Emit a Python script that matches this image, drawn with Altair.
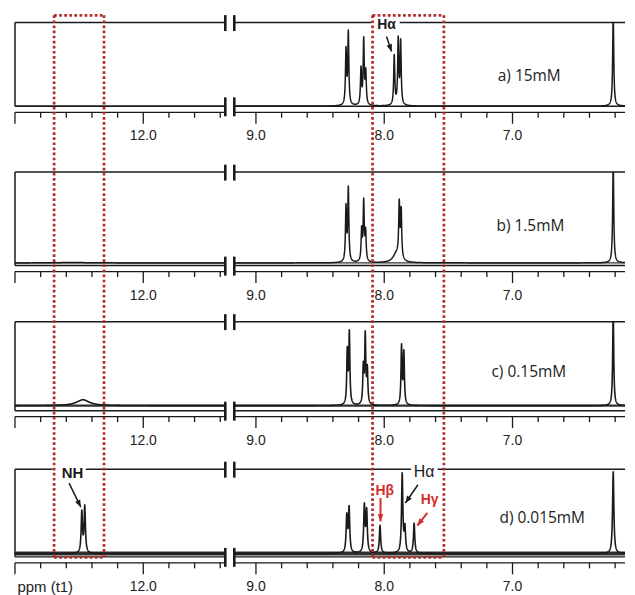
import numpy as np
import pandas as pd
import altair as alt

alt.data_transformers.disable_max_rows()

# ---------------- values ----------------
ROWS = ["a", "b", "c", "d"]
ROW_LABELS = ["a) 15mM", "b) 1.5mM", "c) 0.15mM", "d) 0.015mM"]

# peak lists: chemical shift (ppm), relative height, half width (ppm)
PEAK_PPM = {
    "a": [8.298, 8.280, 8.181, 8.160, 8.144, 7.922, 7.891, 7.872, 6.215],
    "b": [12.55, 8.298, 8.280, 8.176, 8.160, 8.145, 7.905, 7.883, 7.868, 6.215],
    "c": [12.47, 8.288, 8.272, 8.163, 8.148, 8.132, 7.865, 7.847, 6.215],
    "d": [12.479, 12.456, 8.292, 8.274, 8.155, 8.137, 8.033, 7.860, 7.839, 7.767, 6.215],
}
PEAK_HEIGHT = {
    "a": [0.65, 0.86, 0.43, 0.77, 0.38, 0.59, 0.775, 0.75, 1.10],
    "b": [0.006, 0.595, 0.80, 0.34, 0.65, 0.315, 0.10, 0.586, 0.522, 1.10],
    "c": [0.07, 0.628, 0.844, 0.435, 0.81, 0.403, 0.691, 0.614, 1.10],
    "d": [0.483, 0.549, 0.428, 0.524, 0.551, 0.485, 0.33, 0.932, 0.284, 0.354, 0.97],
}
PEAK_WIDTH = {
    "a": [0.005, 0.005, 0.005, 0.005, 0.005, 0.005, 0.005, 0.005, 0.005],
    "b": [0.10, 0.005, 0.005, 0.005, 0.005, 0.005, 0.03, 0.005, 0.005, 0.005],
    "c": [0.06, 0.005, 0.005, 0.005, 0.005, 0.005, 0.005, 0.005, 0.005],
    "d": [0.006, 0.006, 0.006, 0.006, 0.006, 0.006, 0.006, 0.006, 0.006, 0.006, 0.006],
}

TICKS_LEFT = [13.0, 12.8, 12.6, 12.4, 12.2, 12.0, 11.8, 11.6, 11.4]
TICKS_RIGHT = [9.0, 8.8, 8.6, 8.4, 8.2, 8.0, 7.8, 7.6, 7.4, 7.2, 7.0, 6.8, 6.6, 6.4, 6.2]
MAJOR_TICKS = [13.0, 12.0, 9.0, 8.0, 7.0]
TICK_LABELS = {12.0: "12.0", 9.0: "9.0", 8.0: "8.0", 7.0: "7.0"}

BOX_LEFT = [12.695, 12.306]    # dotted box around NH region (ppm)
BOX_RIGHT = [8.091, 7.535]     # dotted box around H-alpha region (ppm)

# ---------------- layout / style ----------------
L_HI, L_LO = 13.0, 11.3605
R_HI, R_LO = 9.169, 6.1231
W_L, W_R, GAP = 211, 392, 9
ROW_H = [149.5, 149.5, 147.6, 128]
FRAME_B = [84.0, 93.8, 89.3, 88.0]
BASE = [83.8, 91.1, 84.3, 84.7]
NOISE_W = [0, 1.2, 2.2, 4.0]
LINE_W = [1.5, 1.5, 1.6, 1.6]
LABEL_PPM = [7.115, 7.125, 7.164, 7.102]
LABEL_Y = [53.3, 53.8, 50.3, 49.0]
BREAK_TOP = (-7.5, 8.5)
BREAK_BOT = (-9, 10)
DOT_RED = "#B22C2C"
TXT_RED = "#D42B2B"
INK = "#1a1a1a"
ARROW_PATH = "M0,0L-0.6,1.5L0.6,1.5Z"

# annotations: (side, text, ppm, intensity, fontSize, weight, color)
ANNOT_TEXT = {
    "a": [("R", "H\u03b1", 7.982, 0.973, 14, "bold", INK)],
    "d": [("L", "NH", 12.552, 0.96, 15, "bold", INK),
          ("R", "H\u03b1", 7.690, 0.972, 16, "normal", INK),
          ("R", "H\u03b2", 7.996, 0.736, 14, "bold", TXT_RED),
          ("R", "H\u03b3", 7.646, 0.638, 14, "bold", TXT_RED)],
}
# arrows: (side, ppm start, I start, ppm end, I end, color, width)
ANNOT_ARROW = {
    "a": [("R", 7.982, 0.833, 7.943, 0.654, INK, 1.5)],
    "d": [("L", 12.578, 0.835, 12.487, 0.551, INK, 1.5),
          ("R", 7.737, 0.815, 7.835, 0.599, INK, 1.5),
          ("R", 8.029, 0.658, 8.029, 0.381, TXT_RED, 2.0),
          ("R", 7.664, 0.481, 7.742, 0.331, TXT_RED, 2.0)],
}
# white gaps in the top frame line behind labels: (side, ppm1, ppm2)
TOP_GAPS = {
    "a": [("R", 8.099, 7.879)],
    "d": [("L", 12.707, 12.448), ("R", 7.791, 7.584)],
}


def spectrum(row, lo, hi):
    ppm = np.round(np.arange(lo, hi + 0.0005, 0.001), 4)
    inten = np.zeros_like(ppm)
    for p, h, w in zip(PEAK_PPM[row], PEAK_HEIGHT[row], PEAK_WIDTH[row]):
        inten += h / (1.0 + ((ppm - p) / w) ** 2)
    return pd.DataFrame({"ppm": ppm, "I": np.round(inten, 5)})


ONE = pd.DataFrame({"k": [0]})


def panel(ri, side):
    row = ROWS[ri]
    left = side == "L"
    lo, hi = (L_LO, L_HI) if left else (R_LO, R_HI)
    W = W_L if left else W_R
    H, FB, BL = ROW_H[ri], FRAME_B[ri], BASE[ri]
    k = W / (hi - lo)
    xs = alt.Scale(domain=[lo, hi], reverse=True, nice=False, zero=False)
    ys = alt.Scale(domain=[0, 1], range=[BL, 0], nice=False, zero=False)
    layers = []

    if NOISE_W[ri] > 0:
        layers.append(alt.Chart(ONE).mark_rule(color=INK, strokeWidth=NOISE_W[ri], opacity=0.9).encode(
            x=alt.value(0), x2=alt.value(W), y=alt.Y(datum=0, scale=ys, axis=None)))

    layers.append(alt.Chart(spectrum(row, lo, hi)).mark_line(
        clip=True, color=INK, strokeWidth=LINE_W[ri], strokeJoin="round").encode(
        x=alt.X("ppm:Q", scale=xs, axis=None), y=alt.Y("I:Q", scale=ys, axis=None)))

    frame = dict(color=INK, strokeWidth=1.5)
    layers.append(alt.Chart(ONE).mark_rule(**frame).encode(x=alt.value(0), x2=alt.value(W), y=alt.value(0)))
    layers.append(alt.Chart(ONE).mark_rule(**frame).encode(x=alt.value(0), x2=alt.value(W), y=alt.value(FB)))
    if left:
        layers.append(alt.Chart(ONE).mark_rule(**frame).encode(x=alt.value(0), y=alt.value(0), y2=alt.value(FB)))

    bx = W if left else 0
    for (t0, t1), yy in ((BREAK_TOP, 0), (BREAK_BOT, FB)):
        layers.append(alt.Chart(ONE).mark_rule(color=INK, strokeWidth=2.6).encode(
            x=alt.value(bx), y=alt.value(yy + t0), y2=alt.value(yy + t1)))

    # axis
    ay = FB + 6
    layers.append(alt.Chart(ONE).mark_rule(color=INK, strokeWidth=1.2).encode(
        x=alt.value(0), x2=alt.value(W), y=alt.value(ay)))
    ticks = TICKS_LEFT if left else TICKS_RIGHT
    minor = pd.DataFrame({"ppm": [t for t in ticks if t not in MAJOR_TICKS]})
    major = pd.DataFrame({"ppm": [t for t in ticks if t in MAJOR_TICKS]})
    layers.append(alt.Chart(minor).mark_rule(color=INK, strokeWidth=1.3).encode(
        x=alt.X("ppm:Q", scale=xs, axis=None), y=alt.value(ay), y2=alt.value(ay + 5.5)))
    layers.append(alt.Chart(major).mark_rule(color=INK, strokeWidth=1.3).encode(
        x=alt.X("ppm:Q", scale=xs, axis=None), y=alt.value(ay), y2=alt.value(ay + 11.5)))
    labs = pd.DataFrame({"ppm": [t for t in ticks if t in TICK_LABELS],
                         "lab": [TICK_LABELS[t] for t in ticks if t in TICK_LABELS]})
    layers.append(alt.Chart(labs).mark_text(font="Liberation Sans", fontSize=14, color="#222",
                                            baseline="middle", align="center").encode(
        x=alt.X("ppm:Q", scale=xs, axis=None), y=alt.value(FB + 30), text="lab:N"))
    if left and ri == 3:
        layers.append(alt.Chart(pd.DataFrame({"t": ["ppm (t1)"]})).mark_text(
            font="Liberation Sans", fontSize=15, color="#222", align="left", baseline="middle").encode(
            x=alt.value(2.5), y=alt.value(FB + 30), text="t:N"))

    # white gaps in the top line behind labels
    for s, g1, g2 in TOP_GAPS.get(row, []):
        if s == side:
            layers.append(alt.Chart(ONE).mark_rule(color="white", strokeWidth=5).encode(
                x=alt.X(datum=g1, scale=xs, axis=None), x2=alt.X2(datum=g2), y=alt.value(0)))

    # text annotations
    for s, txt, px, py, fs, fw, col in ANNOT_TEXT.get(row, []):
        if s == side:
            layers.append(alt.Chart(pd.DataFrame({"t": [txt]})).mark_text(
                font="Liberation Sans", fontSize=fs, fontWeight=fw, color=col,
                align="center", baseline="middle").encode(
                x=alt.X(datum=px, scale=xs, axis=None), y=alt.Y(datum=py, scale=ys, axis=None), text="t:N"))

    # arrows
    for s, x1, y1, x2, y2, col, sw in ANNOT_ARROW.get(row, []):
        if s == side:
            dx = (x1 - x2) * k
            dy = (y1 - y2) * BL
            ang = (np.degrees(np.arctan2(dx, -dy)) + 360.0) % 360.0
            df = pd.DataFrame({"x1": [x1], "y1": [y1], "x2": [x2], "y2": [y2], "ang": [ang]})
            layers.append(alt.Chart(df).mark_rule(color=col, strokeWidth=sw).encode(
                x=alt.X("x1:Q", scale=xs, axis=None), x2="x2:Q",
                y=alt.Y("y1:Q", scale=ys, axis=None), y2="y2:Q"))
            layers.append(alt.Chart(df).mark_point(shape=ARROW_PATH, filled=True, size=90, color=col,
                                                   opacity=1, strokeWidth=0).encode(
                x=alt.X("x2:Q", scale=xs, axis=None), y=alt.Y("y2:Q", scale=ys, axis=None),
                angle=alt.Angle("ang:Q", scale=None)))

    # concentration label
    if not left:
        layers.append(alt.Chart(pd.DataFrame({"t": [ROW_LABELS[ri]]})).mark_text(
            font="Open Sans", fontSize=15.5, color="#222", align="left", baseline="middle").encode(
            x=alt.X(datum=LABEL_PPM[ri], scale=xs, axis=None), y=alt.value(LABEL_Y[ri]), text="t:N"))

    # red dotted boxes spanning all rows (drawn from the last row, on top)
    if ri == 3:
        box = BOX_LEFT if left else BOX_RIGHT
        top = -(ROW_H[0] + ROW_H[1] + ROW_H[2]) - 8.7
        bot = 88.5
        dot = dict(color=DOT_RED, strokeWidth=2.7, strokeDash=[2.7, 2.4])
        for bxp in box:
            layers.append(alt.Chart(ONE).mark_rule(**dot).encode(
                x=alt.X(datum=bxp, scale=xs, axis=None), y=alt.value(top), y2=alt.value(bot)))
        for yy in (top, bot):
            layers.append(alt.Chart(ONE).mark_rule(**dot).encode(
                x=alt.X(datum=box[0], scale=xs, axis=None), x2=alt.X2(datum=box[1]), y=alt.value(yy)))

    return alt.layer(*layers).properties(width=W, height=H)


panels = []
for ri in range(4):
    panels.append(panel(ri, "L"))
    panels.append(panel(ri, "R"))

chart = alt.concat(*panels, columns=2, spacing={"row": 0, "column": GAP},
                   bounds="flush", align="each").properties(
    padding={"left": 5, "top": 4.7, "right": 0, "bottom": 0},
    background="white",
).configure_view(stroke=None)

chart.save("out.html", embed_options={"renderer": "svg", "actions": False})
